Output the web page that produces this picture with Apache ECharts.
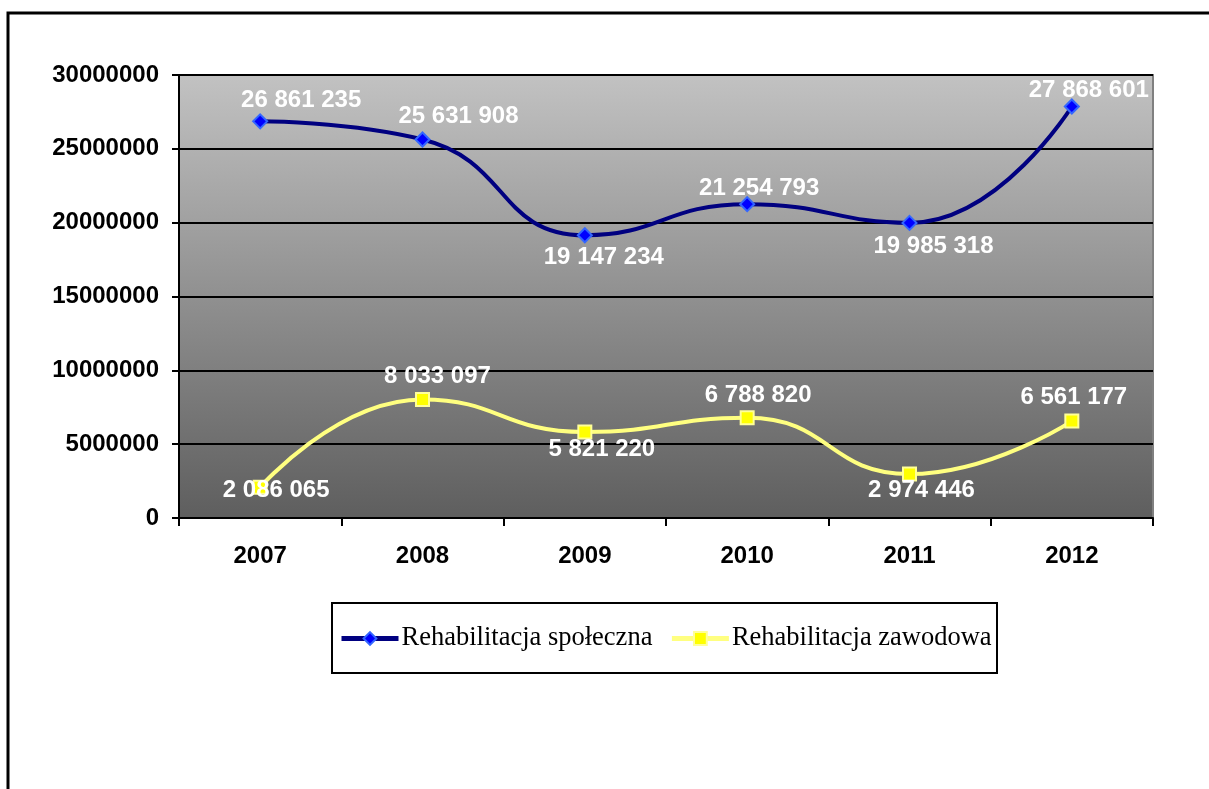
<!DOCTYPE html>
<html>
<head>
<meta charset="utf-8">
<script src="https://cdn.jsdelivr.net/npm/echarts@6/dist/echarts.min.js"></script>
<style>html,body{margin:0;padding:0;background:#fff}#c{width:1209px;height:789px}</style>
</head>
<body>
<div id="c"></div>
<script>
const categories = ['2007', '2008', '2009', '2010', '2011', '2012'];
const spoleczna = [26861235, 25631908, 19147234, 21254793, 19985318, 27868601];
const zawodowa = [2086065, 8033097, 5821220, 6788820, 2974446, 6561177];
const seriesNames = ['Rehabilitacja społeczna', 'Rehabilitacja zawodowa'];
const yTicks = {min: 0, max: 30000000, interval: 5000000};

// label placement (styling only)
const offsets1 = [[41,-21],[36,-23],[19,22],[12,-16],[24,23],[17,-16]];
const offsets2 = [[16,3],[15,-23],[17,17],[11,-22],[12,16],[2,-24]];

function fmt(v){ return String(v).replace(/\B(?=(\d{3})+(?!\d))/g, ' '); }
const sans = '"Liberation Sans", Arial, sans-serif';
const serif = '"Liberation Serif", "Times New Roman", serif';

function mkData(vals, offs){
  return vals.map((v,i)=>({value:v, label:{offset:offs[i]}}));
}
const labelBase = {show:true, position:'inside', color:'#fff', fontFamily:sans, fontWeight:'bold', fontSize:24, formatter:p=>fmt(p.value)};

const s1Style = {line:{color:'#000080', width:5}, item:{color:'#0000ff', borderColor:'#3366ff', borderWidth:2}};
const s2Style = {line:{color:'#ffff80', width:5}, item:{color:'#ffff00', borderColor:'#ffff99', borderWidth:2}};

const chart = echarts.init(document.getElementById('c'));
chart.setOption({
  animation:false,
  backgroundColor:'#fff',
  graphic:[
    {type:'rect', shape:{x:8, y:13, width:1400, height:1000}, style:{fill:'none', stroke:'#000', lineWidth:3}, z:-1},
    {type:'rect', shape:{x:332, y:603, width:665, height:70}, style:{fill:'#fff', stroke:'#000', lineWidth:2}, z:0}
  ],
  grid:{left:179, right:56, top:75, bottom:271, show:true,
    backgroundColor:new echarts.graphic.LinearGradient(0,0,0,1,[{offset:0,color:'#c2c2c2'},{offset:1,color:'#5e5e5e'}]),
    borderColor:'#808080', borderWidth:2},
  legend:{left:339, top:625, padding:0, itemWidth:57, itemHeight:16, itemGap:17, z:5,
    textStyle:{fontFamily:serif, fontSize:26.5, color:'#000', padding:[0,0,0,-2]},
    data:[
      {name:seriesNames[0], itemStyle:s1Style.item, lineStyle:s1Style.line},
      {name:seriesNames[1], itemStyle:s2Style.item, lineStyle:s2Style.line}
    ]},
  xAxis:{type:'category', data:categories, boundaryGap:true,
    axisLine:{lineStyle:{color:'#000', width:2}},
    axisTick:{show:true, length:8, lineStyle:{color:'#000', width:2}},
    axisLabel:{color:'#000', fontFamily:sans, fontWeight:'bold', fontSize:24, margin:26}},
  yAxis:{type:'value', min:yTicks.min, max:yTicks.max, interval:yTicks.interval,
    axisLine:{show:true, lineStyle:{color:'#000', width:2}},
    axisTick:{show:true, length:7, lineStyle:{color:'#000', width:2}},
    axisLabel:{color:'#000', fontFamily:sans, fontWeight:'bold', fontSize:24, margin:20, formatter:v=>String(v)},
    splitLine:{lineStyle:{color:'#000', width:2}}},
  series:[
    {name:seriesNames[0], type:'line', smooth:0.5, data:mkData(spoleczna, offsets1),
     lineStyle:{color:'#000080', width:4}, itemStyle:s1Style.item,
     symbol:'diamond', symbolSize:14, label:labelBase, z:3},
    {name:seriesNames[1], type:'line', smooth:0.5, data:mkData(zawodowa, offsets2),
     lineStyle:{color:'#ffff80', width:4}, itemStyle:s2Style.item,
     symbol:'rect', symbolSize:13, label:labelBase, z:3}
  ]
});
</script>
</body>
</html>
